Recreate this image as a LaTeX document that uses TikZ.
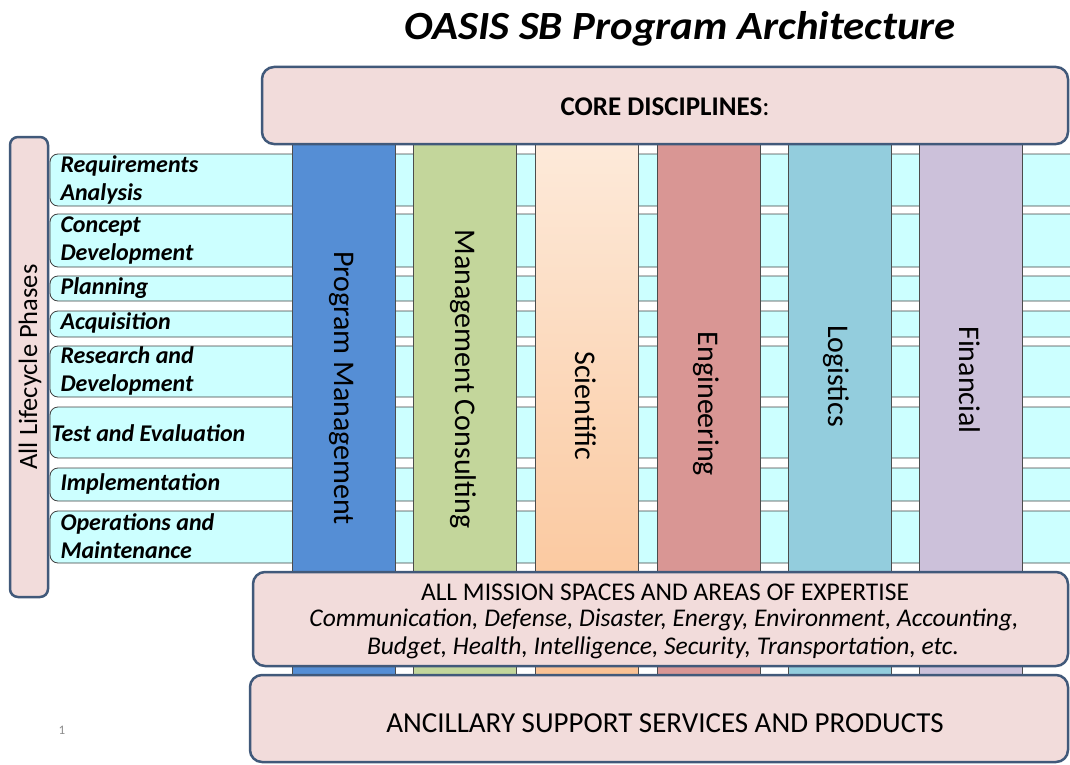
\documentclass[tikz,border=0pt]{standalone}
\usepackage{fontspec}
\setmainfont{Carlito}
\usetikzlibrary{calc,positioning}

\definecolor{boxpink}{HTML}{F2DCDB}
\definecolor{boxline}{HTML}{41597A}
\definecolor{rowcyan}{HTML}{CCFFFF}
\definecolor{pmblue}{HTML}{558ED5}
\definecolor{mcgreen}{HTML}{C3D69B}
\definecolor{scitop}{HTML}{FDEADA}
\definecolor{scibot}{HTML}{FAC090}
\definecolor{engred}{HTML}{D99694}
\definecolor{logblue}{HTML}{93CDDD}
\definecolor{finlav}{HTML}{CCC1DA}

\tikzset{
  pinkbox/.style={fill=boxpink,draw=boxline,line width=2.5pt,rounded corners=12pt},
  phaserow/.style={fill=rowcyan,draw=black!75,line width=0.8pt,rounded corners=8pt},
  phasetext/.style={anchor=west,align=left,font=\bfseries\itshape\fontsize{24}{28}\selectfont},
  disc/.style={draw=black!70,line width=0.8pt},
  disctext/.style={rotate=-90,font=\fontsize{30}{32}\selectfont}
}

\begin{document}
\begin{tikzpicture}[x=1pt,y=-1pt]
\useasboundingbox (0,0) rectangle (1070,765);
\node[font=\bfseries\itshape\fontsize{40}{44}\selectfont,xscale=1.07](title) at (680,29) {OASIS SB Program Architecture};
% lifecycle phases
\foreach \ytop/\ybot in {154/206,214/267,276/301,311/337,346/397,407/458,468/501,511/563}
  \filldraw[phaserow] (1080,\ytop) -- (50,\ytop) -- (50,\ybot) -- (1080,\ybot);
\node[phasetext](req) at (57,180) {Requirements\\Analysis};
\node[phasetext](con) at (57,241) {Concept\\Development};
\node[phasetext](pln) at (57,288) {Planning};
\node[phasetext](acq) at (57,323) {Acquisition};
\node[phasetext](rnd) at (57,371) {Research and\\Development};
\node[phasetext](tne) at (48,433) {Test and Evaluation};
\node[phasetext](imp) at (57,484) {Implementation};
\node[phasetext](onm) at (57,536) {Operations and\\Maintenance};
% core disciplines
\foreach \x/\col in {292/pmblue,413/mcgreen,657/engred,788/logblue,919/finlav}
  \filldraw[disc,fill=\col] (\x,140) rectangle ++(103,560);
\shade[top color=scitop,bottom color=scibot] (535,140) rectangle (638,700);
\draw[disc] (535,140) -- (535,700) (638,140) -- (638,700);
\node[disctext](pm) at (342,388) {Program Management};
\node[disctext](mc) at (463,379) {Management Consulting};
\node[disctext](sci) at (586,406) {Scientific};
\node[disctext](eng) at (706,404) {Engineering};
\node[disctext](log) at (836,376) {Logistics};
\node[disctext](fin) at (970,380) {Financial};
\draw[pinkbox] (262,67) rectangle (1068,144);
\node[font=\fontsize{27}{30}\selectfont](core) at (665,107) {\textbf{CORE DISCIPLINES}:};
\draw[pinkbox,rounded corners=8pt] (10,137) rectangle (48,597);
\node[rotate=90,font=\fontsize{26.5}{28}\selectfont](life) at (30,367) {All Lifecycle Phases};
% mission spaces and ancillary
\draw[pinkbox] (253,572) rectangle (1068,666);
\node[font=\fontsize{25.5}{28}\selectfont](msn) at (665,592) {ALL MISSION SPACES AND AREAS OF EXPERTISE};
\node[font=\itshape\fontsize{25.5}{28}\selectfont](msa) at (664,620) {Communication, Defense, Disaster, Energy, Environment, Accounting,};
\node[font=\itshape\fontsize{25.5}{28}\selectfont](msb) at (663,648) {Budget, Health, Intelligence, Security, Transportation, etc.};
\draw[pinkbox] (250,675) rectangle (1068,762);
\node[font=\fontsize{29}{30}\selectfont](anc) at (665,723) {ANCILLARY SUPPORT SERVICES AND PRODUCTS};
\node[font=\fontsize{13}{14}\selectfont,text=black!45](pg) at (62,730) {1};
\end{tikzpicture}
\end{document}
